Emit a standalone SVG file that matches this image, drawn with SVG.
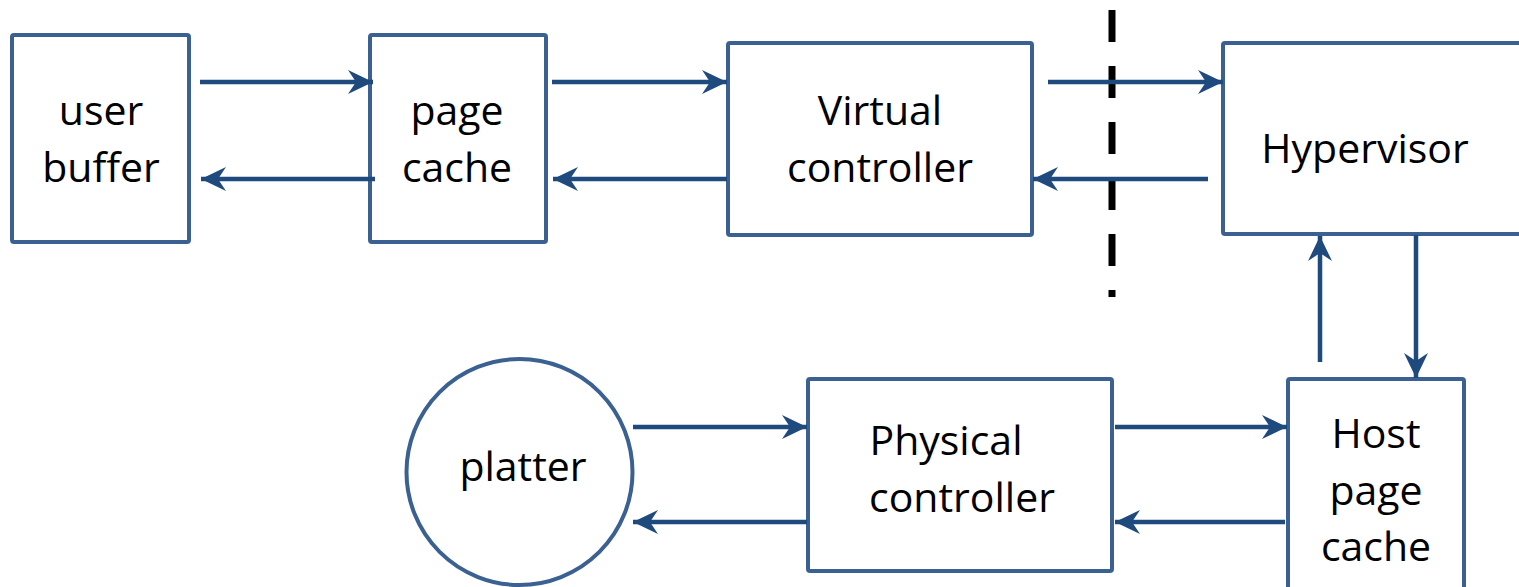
<svg xmlns="http://www.w3.org/2000/svg" width="1519" height="587" viewBox="0 0 1519 587">
<style>
.box{fill:#fff;stroke:#3b6192;stroke-width:4}
.lbl{font-family:"Open Sans","Liberation Sans",sans-serif;font-size:41px;fill:#000;text-anchor:middle}
.conn{stroke:#1f4a7e;stroke-width:4.5;fill:none;marker-end:url(#ah)}
</style>
<defs>
<marker id="ah" viewBox="-26 -13 27 26" refX="0" refY="0" markerWidth="27" markerHeight="26" markerUnits="userSpaceOnUse" orient="auto">
<path d="M0,0 L-25,-12 L-17,0 L-25,12 Z" fill="#1f4a7e"/>
</marker>
</defs>
<rect width="1519" height="587" fill="#fff"/>
<g id="user-buffer"><rect class="box" x="12" y="35" width="177" height="207" rx="2"/><text class="lbl" x="101" y="125">user</text><text class="lbl" x="101" y="182">buffer</text></g>
<g id="page-cache"><rect class="box" x="370" y="35" width="176" height="207" rx="2"/><text class="lbl" x="457" y="125">page</text><text class="lbl" x="457" y="182">cache</text></g>
<g id="virtual-controller"><rect class="box" x="728" y="43" width="304" height="192" rx="2"/><text class="lbl" x="880" y="125">Virtual</text><text class="lbl" x="880" y="182">controller</text></g>
<g id="hypervisor"><rect class="box" x="1223" y="43" width="300" height="191" rx="2"/><text class="lbl" x="1365" y="163">Hypervisor</text></g>
<g id="physical-controller"><rect class="box" x="808" y="379" width="304" height="192" rx="2"/><text class="lbl" x="946" y="455">Physical</text><text class="lbl" x="962" y="512">controller</text></g>
<g id="host-page-cache"><rect class="box" x="1288" y="379" width="176" height="212" rx="2"/><text class="lbl" x="1376" y="448">Host</text><text class="lbl" x="1376" y="505">page</text><text class="lbl" x="1376" y="561">cache</text></g>
<g id="platter"><circle class="box" cx="519.5" cy="472" r="113"/><text class="lbl" x="523" y="481">platter</text></g>
<g id="boundary"><line x1="1112" y1="10" x2="1112" y2="297" stroke="#000" stroke-width="7" stroke-dasharray="32 24"/></g>
<g id="connectors">
<line class="conn" x1="200" y1="82" x2="373" y2="82"/>
<line class="conn" x1="375" y1="179" x2="201" y2="179"/>
<line class="conn" x1="552" y1="82" x2="727" y2="82"/>
<line class="conn" x1="727" y1="179" x2="553" y2="179"/>
<line class="conn" x1="1048" y1="82" x2="1223" y2="82"/>
<line class="conn" x1="1208" y1="179" x2="1033" y2="179"/>
<line class="conn" x1="1320" y1="362" x2="1320" y2="236"/>
<line class="conn" x1="1416" y1="235" x2="1416" y2="378"/>
<line class="conn" x1="633" y1="427" x2="807" y2="427"/>
<line class="conn" x1="807" y1="522" x2="633" y2="522"/>
<line class="conn" x1="1115" y1="427" x2="1287" y2="427"/>
<line class="conn" x1="1285" y1="522" x2="1115" y2="522"/>
</g>
</svg>
